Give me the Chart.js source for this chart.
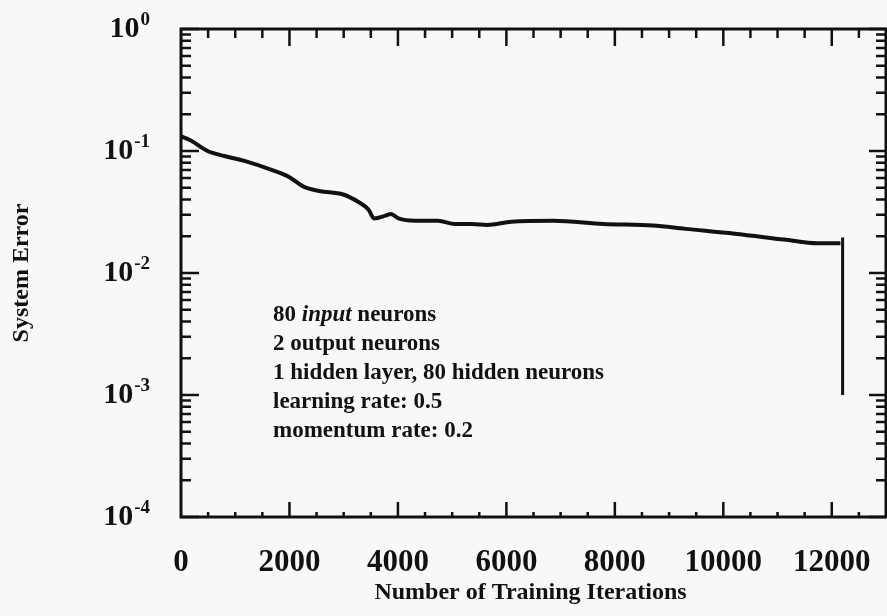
<!DOCTYPE html>
<html>
<head>
<meta charset="utf-8">
<title>System Error vs Training Iterations</title>
<script src="https://cdn.jsdelivr.net/npm/chart.js@4.4.1/dist/chart.umd.min.js"></script>
<style>
    html, body { margin: 0; padding: 0; background: #f8f8f8; }
    canvas { display: block; }
</style>
</head>
<body>
<canvas id="errorChart" width="887" height="616"></canvas>
<script>
// training curve
const iterations = [0, 180, 490, 800, 1170, 1710, 2000, 2260, 2550, 2990, 3280, 3460, 3560, 3770, 3870, 4010, 4320, 4740, 5050, 5360, 5650, 6090, 6870, 7790, 8700, 9300, 10210, 11120, 11740, 12160];
const systemError = [0.132, 0.122, 0.1, 0.091, 0.083, 0.069, 0.061, 0.051, 0.047, 0.044, 0.038, 0.033, 0.028, 0.0295, 0.0305, 0.028, 0.0268, 0.0268, 0.0252, 0.0252, 0.0248, 0.0263, 0.0268, 0.0252, 0.0245, 0.023, 0.021, 0.0188, 0.0175, 0.0175];

// final drop at the end of training
const dropIterations = [12200, 12200];
const dropError = [0.0195, 0.001];

// axes
const xTickLabels = [0, 2000, 4000, 6000, 8000, 10000, 12000];
const xMinorStep = 500;
const xMax = 13000;
const yExponents = [0, -1, -2, -3, -4];

const noteLines = [
    [["80 ", ""], ["input", "italic "], [" neurons", ""]],
    [["2 output neurons", ""]],
    [["1 hidden layer, 80 hidden neurons", ""]],
    [["learning rate: 0.5", ""]],
    [["momentum rate: 0.2", ""]]
];

const ink = "#111111";
const serif = "'Liberation Serif', 'DejaVu Serif', serif";

function toPoints(xs, ys) {
    return xs.map((x, i) => ({ x: x, y: ys[i] }));
}

// frame, inward ticks, labels and the note
const framePlugin = {
    id: "frame",
    afterDraw(chart) {
        const ctx = chart.ctx;
        const area = chart.chartArea;
        const xs = chart.scales.x;
        const ys = chart.scales.y;

        ctx.save();
        ctx.strokeStyle = ink;
        ctx.fillStyle = ink;
        ctx.lineCap = "butt";

        // border
        ctx.lineWidth = 3;
        ctx.strokeRect(area.left, area.top, area.right - area.left, area.bottom - area.top);

        // x ticks
        ctx.lineWidth = 2.5;
        for (let v = xMinorStep; v < xMax; v += xMinorStep) {
            const px = xs.getPixelForValue(v);
            const major = v % 2000 === 0;
            ctx.beginPath();
            ctx.moveTo(px, area.bottom);
            ctx.lineTo(px, area.bottom - (major ? 15 : 5));
            ctx.moveTo(px, area.top);
            ctx.lineTo(px, area.top + (major ? 17 : 9));
            ctx.stroke();
        }

        // y ticks (log decades and minors)
        for (let e = -4; e <= 0; e++) {
            const base = Math.pow(10, e);
            const py = ys.getPixelForValue(base);
            ctx.beginPath();
            ctx.moveTo(area.left, py);
            ctx.lineTo(area.left + 18, py);
            ctx.moveTo(area.right, py);
            ctx.lineTo(area.right - 17, py);
            ctx.stroke();
            if (e === 0) continue;
            for (let m = 2; m <= 9; m++) {
                const my = ys.getPixelForValue(m * base);
                ctx.beginPath();
                ctx.moveTo(area.left, my);
                ctx.lineTo(area.left + 10, my);
                ctx.moveTo(area.right, my);
                ctx.lineTo(area.right - 10, my);
                ctx.stroke();
            }
        }

        // x tick labels
        ctx.font = "bold 31px " + serif;
        ctx.textAlign = "center";
        ctx.textBaseline = "middle";
        xTickLabels.forEach(v => {
            ctx.fillText(String(v), xs.getPixelForValue(v), 563);
        });

        // y tick labels: 10 with raised exponent
        yExponents.forEach(e => {
            const py = ys.getPixelForValue(Math.pow(10, e));
            const right = 150;
            ctx.font = "bold 19px " + serif;
            const exp = String(e);
            const expW = ctx.measureText(exp).width;
            ctx.textAlign = "left";
            ctx.fillText(exp, right - expW, py - 9);
            ctx.font = "bold 30px " + serif;
            ctx.textAlign = "right";
            ctx.fillText("10", right - expW - 1, py);
        });

        // axis titles
        ctx.font = "bold 24px " + serif;
        ctx.textAlign = "center";
        ctx.fillText("Number of Training Iterations", (area.left + area.right) / 2 - 3, 593);
        ctx.save();
        ctx.translate(22, (area.top + area.bottom) / 2);
        ctx.rotate(-Math.PI / 2);
        ctx.fillText("System Error", 0, 0);
        ctx.restore();

        // network settings note
        ctx.textAlign = "left";
        noteLines.forEach((parts, i) => {
            let x = 273;
            const y = 315 + i * 29;
            parts.forEach(([text, style]) => {
                ctx.font = style + "bold 23px " + serif;
                ctx.fillText(text, x, y);
                x += ctx.measureText(text).width;
            });
        });

        ctx.restore();
    }
};

new Chart(document.getElementById("errorChart"), {
    type: "line",
    data: {
        datasets: [
            {
                label: "System Error",
                data: toPoints(iterations, systemError),
                borderColor: ink,
                borderWidth: 4,
                pointRadius: 0,
                tension: 0.35,
                cubicInterpolationMode: "monotone",
                fill: false
            },
            {
                label: "Final",
                data: toPoints(dropIterations, dropError),
                borderColor: ink,
                borderWidth: 3,
                pointRadius: 0,
                fill: false
            }
        ]
    },
    options: {
        responsive: false,
        animation: false,
        devicePixelRatio: 1,
        layout: { padding: { left: 173, top: 29, right: 1, bottom: 91 } },
        scales: {
            x: {
                type: "linear",
                min: 0,
                max: xMax,
                grid: { display: false },
                border: { display: false },
                ticks: { display: false }
            },
            y: {
                type: "logarithmic",
                min: 1e-4,
                max: 1,
                grid: { display: false },
                border: { display: false },
                ticks: { display: false }
            }
        },
        plugins: {
            legend: { display: false },
            tooltip: { enabled: false }
        }
    },
    plugins: [framePlugin]
});
</script>
</body>
</html>
